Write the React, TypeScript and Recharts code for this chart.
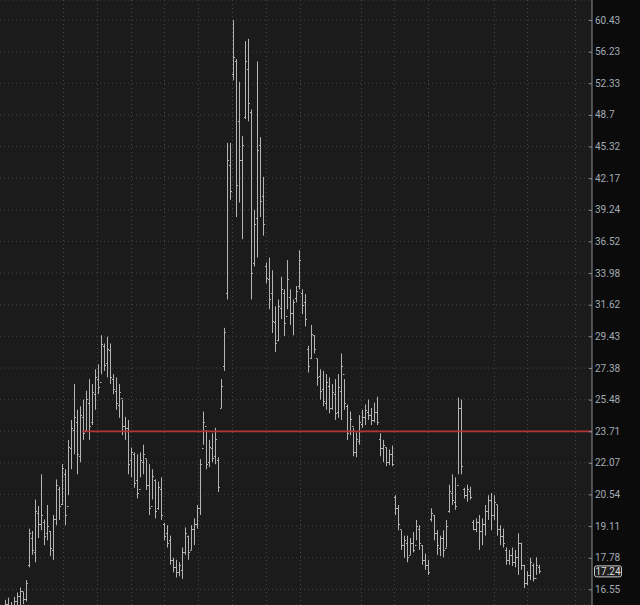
import { ComposedChart, Bar, XAxis, YAxis, CartesianGrid, ReferenceLine } from 'recharts';

// daily OHLC (one bar every ~3px)
const opens = [
  15.9, 16.0, 15.9, 15.85, 16.1, 16.3, 16.5, 16.2, 17.5, 18.6, 18.0, 19.7, 19.2, 19.3, 18.8, 18.9, 18.1, 19.4, 20.8, 20.1,
  21.5, 20.0, 22.8, 23.8, 24.2, 22.4, 24.5, 23.8, 25.3, 24.2, 25.8, 26.7, 26.5, 28.8, 27.7, 28.5, 26.7, 26.0, 25.2, 25.6,
  24.0, 23.9, 22.2, 22.5, 21.2, 20.8, 22.1, 22.3, 21.0, 20.0, 21.2, 19.9, 20.8, 19.2, 18.8, 18.5, 17.7, 17.4, 17.2, 17.3,
  18.0, 18.7, 18.1, 19.0, 19.2, 19.9, 22.8, 24.0, 22.1, 22.8, 22.4, 22.2, 25.0, 27.5, 32.5, 43.5, 53.5, 55.0, 48.0, 44.0,
  48.5, 54.0, 49.0, 34.8, 38.5, 45.5, 40.5, 34.5, 33.5, 32.5, 30.4, 29.2, 31.4, 32.5, 30.8, 32.2, 31.0, 32.1, 33.0, 32.5,
  31.8, 28.6, 28.0, 29.5, 28.0, 26.9, 26.1, 25.3, 26.3, 25.0, 25.8, 24.8, 26.0, 27.0, 25.1, 23.7, 24.0, 22.6, 23.2, 24.1,
  24.5, 24.8, 24.6, 24.3, 24.8, 23.3, 22.8, 22.9, 22.1, 22.5, 20.4, 19.9, 19.0, 18.3, 18.4, 17.9, 18.4, 18.3, 19.0, 18.3,
  17.7, 17.5, 19.4, 19.6, 18.8, 18.2, 18.6, 18.2, 19.8, 20.6, 20.2, 21.0, 25.0, 20.8, 20.5, 20.7, 19.3, 19.0, 19.3, 18.9,
  19.2, 19.8, 20.3, 19.6, 20.1, 19.0, 18.7, 18.1, 17.7, 17.9, 17.6, 17.8, 18.4, 17.5, 16.8, 17.1, 17.5, 17.0, 17.4,
];
const highs = [
  16.16, 16.24, 16.08, 16.27, 16.43, 16.62, 16.45, 16.9, 19.0, 18.9, 20.3, 20.0, 21.5, 19.4, 20.05, 18.9, 19.6, 21.25, 20.9, 22.0,
  21.75, 23.25, 24.33, 26.4, 24.9, 25.1, 25.48, 26.0, 26.7, 26.4, 27.3, 27.6, 29.5, 28.95, 29.4, 28.95, 27.0, 26.8, 26.4, 25.48,
  24.5, 24.33, 22.85, 22.6, 22.5, 22.6, 23.0, 22.25, 22.0, 21.75, 21.25, 21.15, 21.35, 19.25, 19.15, 18.7, 17.78, 17.7, 17.6, 18.2,
  19.05, 18.7, 19.15, 19.45, 20.05, 22.25, 24.8, 23.77, 23.25, 23.6, 23.9, 22.35, 26.7, 30.0, 45.7, 45.7, 60.43, 55.3, 52.5, 46.4,
  57.6, 57.9, 49.3, 39.24, 55.0, 46.3, 42.3, 34.8, 35.2, 34.2, 31.5, 32.0, 33.7, 32.75, 35.0, 32.75, 32.0, 33.0, 35.8, 32.75,
  32.4, 28.8, 30.2, 29.5, 27.95, 27.3, 27.2, 27.0, 26.8, 26.4, 26.7, 27.0, 28.3, 26.7, 25.2, 24.8, 23.9, 23.65, 24.6, 24.9,
  25.2, 25.48, 25.0, 25.3, 25.65, 23.6, 23.25, 22.85, 22.75, 22.95, 20.5, 20.05, 18.93, 18.7, 18.7, 18.6, 18.85, 19.38, 19.15, 18.3,
  17.95, 17.7, 19.9, 19.6, 18.93, 18.7, 18.93, 19.38, 21.0, 21.5, 21.35, 25.6, 25.48, 20.85, 21.0, 20.9, 19.38, 19.45, 19.6, 19.45,
  20.05, 20.5, 20.6, 20.5, 20.05, 19.15, 19.0, 18.2, 18.1, 18.2, 18.1, 18.8, 18.4, 17.5, 17.25, 17.78, 17.55, 17.8, 17.5,
];
const lows = [
  15.7, 15.75, 15.7, 15.8, 15.9, 15.97, 16.0, 16.1, 17.4, 17.9, 17.6, 18.6, 18.93, 18.3, 18.5, 17.85, 17.7, 19.15, 19.38, 20.05,
  19.15, 20.5, 21.75, 22.5, 21.5, 22.1, 23.25, 23.77, 23.25, 24.05, 24.9, 25.8, 27.0, 27.2, 26.8, 26.4, 25.8, 24.9, 24.45, 23.5,
  23.25, 21.5, 21.35, 20.85, 20.35, 21.35, 21.5, 20.75, 19.6, 20.3, 19.45, 19.83, 19.38, 18.5, 18.2, 17.5, 17.2, 17.0, 17.05, 16.95,
  17.9, 17.7, 18.1, 18.3, 19.0, 19.6, 23.0, 21.75, 21.85, 22.1, 22.0, 20.65, 25.0, 27.2, 32.0, 40.15, 52.7, 38.6, 39.9, 36.7,
  48.25, 48.0, 32.0, 34.5, 35.2, 38.6, 37.0, 33.2, 31.3, 29.65, 28.4, 29.1, 30.6, 29.45, 31.3, 30.2, 29.5, 31.8, 32.75, 30.95,
  30.1, 27.1, 27.95, 28.3, 26.3, 25.48, 25.1, 24.9, 24.7, 24.9, 24.33, 24.45, 24.33, 24.9, 23.25, 23.5, 22.4, 22.35, 23.0, 23.9,
  24.05, 24.33, 24.05, 24.2, 24.05, 22.4, 22.1, 21.9, 21.95, 21.9, 19.6, 18.93, 18.1, 17.78, 17.6, 17.9, 18.0, 18.5, 18.1, 17.5,
  17.3, 17.1, 19.3, 18.5, 17.9, 17.85, 17.8, 18.2, 19.7, 20.05, 19.83, 21.5, 21.5, 20.35, 20.2, 20.3, 18.93, 18.85, 18.1, 18.3,
  18.7, 19.38, 18.93, 19.38, 18.7, 18.3, 18.2, 17.5, 17.5, 17.45, 17.4, 17.1, 17.3, 16.6, 16.7, 16.9, 16.85, 17.1, 17.15,
];
const closes = [
  16.0, 15.9, 15.85, 16.1, 16.3, 16.5, 16.2, 16.8, 18.8, 18.1, 19.8, 19.2, 19.6, 18.7, 19.1, 18.2, 19.4, 21.0, 20.0, 21.8,
  19.6, 22.9, 23.9, 24.5, 22.5, 24.6, 23.6, 25.5, 24.0, 25.9, 26.8, 26.2, 28.9, 27.6, 28.6, 26.8, 26.1, 25.3, 25.9, 24.0,
  23.9, 22.0, 22.6, 21.1, 20.6, 22.2, 22.5, 21.0, 19.9, 21.4, 19.8, 20.9, 19.6, 18.7, 18.4, 17.7, 17.4, 17.2, 17.5, 18.0,
  18.8, 18.0, 19.0, 19.2, 19.9, 22.0, 24.2, 22.0, 22.9, 22.3, 23.3, 20.9, 26.3, 29.7, 44.0, 41.0, 55.5, 41.5, 44.0, 45.5,
  55.0, 50.0, 34.0, 38.0, 45.0, 40.0, 38.0, 33.6, 32.0, 30.5, 29.0, 31.5, 32.8, 30.3, 33.5, 31.0, 31.8, 32.6, 35.0, 31.6,
  30.6, 27.5, 29.6, 28.6, 26.8, 26.0, 25.4, 26.5, 25.0, 25.9, 24.7, 26.2, 27.5, 25.3, 23.6, 24.4, 22.6, 23.3, 24.2, 24.5,
  24.9, 24.6, 24.3, 24.8, 24.2, 22.8, 23.0, 22.1, 22.5, 22.0, 19.9, 19.2, 18.3, 18.5, 17.8, 18.4, 18.1, 19.1, 18.4, 17.7,
  17.5, 17.2, 19.7, 18.8, 18.3, 18.6, 18.1, 19.1, 20.7, 20.3, 20.0, 25.0, 21.9, 20.5, 20.8, 20.4, 19.0, 19.3, 18.9, 19.2,
  19.8, 20.3, 19.6, 20.2, 19.0, 18.7, 18.4, 17.7, 17.9, 17.6, 17.8, 18.4, 17.5, 16.8, 17.1, 17.6, 17.0, 17.5, 17.24,
];

// monthly grid columns (bar index)
const gridDays = [19.33, 30.67, 42, 53, 64.33, 75.67, 87, 98.33, 118.67, 129.67, 141, 163, 174, 190];
const priceTicks = [16.55, 17.78, 19.11, 20.54, 22.07, 23.71, 25.48, 27.38, 29.43, 31.62, 33.98, 36.52, 39.24, 42.17, 45.32, 48.7, 52.33, 56.23, 60.43];
const refLevel = 23.71;
const refStart = 25.67;
const lastPrice = 17.24;

const xMin = -1.67;
const xMax = 195.67;

const data = highs.map((h, i) => ({
  i,
  open: opens[i],
  high: h,
  low: lows[i],
  close: closes[i],
  range: [lows[i], h],
}));

const OhlcShape = (props: any) => {
  const { x, y, width, height, payload } = props;
  if (x == null || y == null || height == null) return null;
  const top = Math.min(y, y + height);
  const bottom = Math.max(y, y + height);
  const cx = Math.round(x + width / 2) + 0.5;
  const lh = Math.log(payload.high);
  const span = lh - Math.log(payload.low) || 1;
  const yOf = (v: number) => Math.round(top + ((bottom - top) * (lh - Math.log(v))) / span) + 0.5;
  const yo = yOf(payload.open);
  const yc = yOf(payload.close);
  return (
    <g stroke="#b4b4b4" strokeWidth={1}>
      <line x1={cx} x2={cx} y1={top} y2={Math.max(bottom, top + 1)} />
      <line x1={cx - 1.5} x2={cx} y1={yo} y2={yo} />
      <line x1={cx} x2={cx + 1.5} y1={yc} y2={yc} />
    </g>
  );
};

const PriceTick = (props: any) => {
  const { x, y, payload } = props;
  return (
    <g>
      <line x1={x - 6} x2={x - 3} y1={y + 0.5} y2={y + 0.5} stroke="#8a8f96" />
      <text x={x} y={y} dy={3.5} fill="#a3abb6" fontSize={10} fontFamily="Roboto, sans-serif">
        {payload.value}
      </text>
    </g>
  );
};

const LastPriceLabel = (props: any) => {
  const vb = props.viewBox || {};
  const right = (vb.x || 0) + (vb.width || 0);
  const y = vb.y || 0;
  return (
    <g>
      <rect x={right + 2.5} y={y - 5.5} width={27} height={11} rx={2} fill="#1e1e1e" stroke="#c8c8c8" strokeWidth={1} />
      <text x={right + 16} y={y} dy={3.5} textAnchor="middle" fill="#dcdcdc" fontSize={10} fontFamily="Roboto, sans-serif">
        {lastPrice}
      </text>
    </g>
  );
};

// vertical grid at the month boundaries, mapped through the x domain
const gridColumns = ({ xAxis, offset }: any) => {
  const sc = xAxis && typeof xAxis.scale === 'function' ? xAxis.scale : null;
  return gridDays.map((d) => {
    const px = sc ? sc(d) : offset.left + (offset.width * (d - xMin)) / (xMax - xMin);
    return Math.round(px) + 0.5;
  });
};

export default function App() {
  return (
    <div style={{ position: 'fixed', left: 0, top: 0, width: 640, height: 605, background: '#0b0b0b' }}>
      <ComposedChart width={640} height={605} data={data} margin={{ top: 0, right: 0, bottom: 0, left: 0 }}>
        <CartesianGrid
          fill="#1b1b1b"
          stroke="#444"
          strokeDasharray="1 3"
          verticalCoordinatesGenerator={gridColumns}
        />
        <XAxis
          dataKey="i"
          type="number"
          domain={[xMin, xMax]}
          allowDataOverflow
          ticks={gridDays}
          height={0}
          tick={false}
          axisLine={false}
          tickLine={false}
        />
        <YAxis
          orientation="right"
          scale="log"
          type="number"
          domain={[15.97, 63.25]}
          allowDataOverflow
          ticks={priceTicks}
          width={48}
          tickSize={0}
          tickMargin={3}
          tickLine={false}
          axisLine={{ stroke: '#8a8f96' }}
          tick={<PriceTick />}
          interval={0}
        />
        <ReferenceLine
          segment={[{ x: refStart, y: refLevel }, { x: xMax, y: refLevel }]}
          stroke="#b33636"
          strokeWidth={1.8}
        />
        <Bar dataKey="range" barSize={3} shape={<OhlcShape />} isAnimationActive={false} />
        <ReferenceLine y={lastPrice} stroke="none" label={<LastPriceLabel />} />
      </ComposedChart>
    </div>
  );
}
